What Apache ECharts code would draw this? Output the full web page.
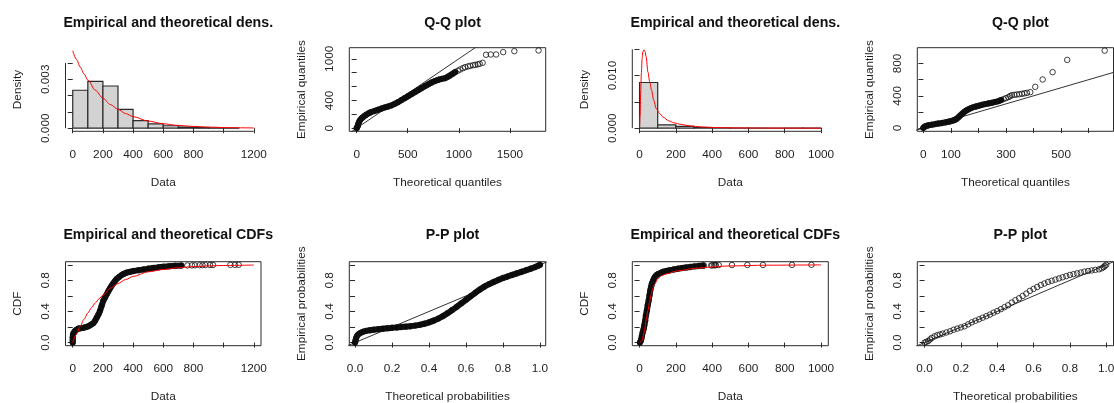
<!DOCTYPE html>
<html><head><meta charset="utf-8">
<script src="https://cdn.jsdelivr.net/npm/echarts@6/dist/echarts.min.js"></script>
<style>html,body{margin:0;padding:0;background:#fff}#c{width:1114px;height:403px}</style>
</head><body><div id="c"></div>
<script>
const FONT = '"Liberation Sans", Arial, sans-serif';

// ---------- Panel 1 : histogram + fitted density (set A) ----------
const hist1Breaks = [0,100,200,300,400,500,600,700,800,900,1000,1100];
const hist1Density = [0.00233,0.00287,0.00259,0.00115,0.00047,0.00027,0.00015,0.00007,0.00004,0.00002,0.00001];
const dens1X = [0,25,50,75,100,150,200,250,300,350,400,500,600,700,800,900,1000,1100,1200];
const dens1Y = [0.00475,0.00422,0.00375,0.00333,0.00296,0.00233,0.00184,0.00145,0.00116,0.0009,0.00071,0.00044,0.00027,0.00017,0.00011,0.00007,0.00004,0.000025,0.000015];
const x1Ticks = [0,200,400,600,800,1000,1200];
const x1Labels = [0,200,400,600,800,1200];
const y1Ticks = [0,0.001,0.002,0.003,0.004];
const y1Labels = [0,0.003];

// ---------- Panel 2 : Q-Q plot (set A) ----------
const qq1Band = [[0,0],[5,12],[10,30],[16,60],[25,95],[36,120],[47,140],[59,155],[75,175],[92,192],[115,212],[141,231],[175,248],[207,264],[240,281],[273,298],[306,312],[339,327],[372,350],[405,375],[438,404],[470,433],[503,461],[536,490],[569,519],[602,548],[635,577],[668,606],[701,633],[734,659],[767,680],[799,697],[832,710],[865,721],[890,740],[914,760],[940,785],[964,808]];
const qq1Sparse = [[990,828],[1013,846],[1040,865],[1062,880],[1090,890],[1112,899],[1140,907],[1161,913],[1185,920],[1204,928],[1233,942],[1266,1058],[1312,1062],[1365,1062],[1434,1096],[1543,1110],[1780,1120]];
const x2Ticks = [0,500,1000,1500];
const y2Ticks = [0,200,400,600,800,1000];
const y2Labels = [0,400,1000];

// ---------- Panel 3 : histogram + fitted density (set B) ----------
const hist2Breaks = [0,100,200,300,400,500,600,700,800,900,1000];
const hist2Density = [0.00868,0.00064,0.00032,0.0001,0.00004,0.00002,0.00002,0,0.00002,0.00002];
const dens2X = [0,3,6,10,14,18,24,30,36,46,56,66,78,92,110,130,160,190,230,280,340,420,520,700,1000];
const dens2Y = [0,0.0025,0.0065,0.0105,0.0132,0.0145,0.0149,0.0146,0.0136,0.0107,0.0088,0.0072,0.0053,0.0037,0.0028,0.0021,0.0014,0.001,0.0007,0.00042,0.00024,0.00011,0.00005,0.00001,0];
const x3Ticks = [0,200,400,600,800,1000];
const y3Ticks = [0,0.005,0.010,0.015];
const y3Labels = [0,0.010];

// ---------- Panel 4 : Q-Q plot (set B) ----------
const qq2Band = [[0,2],[3,12],[6,21],[12,28],[18,33],[30,41],[42,49],[55,56],[67,62],[80,70],[91,78],[100,86],[109,95],[115,104],[121,115],[127,133],[133,153],[139,172],[145,190],[151,207],[158,223],[167,238],[176,252],[188,265],[200,276],[212,287],[224,297],[236,305],[248,313],[260,323],[273,334],[282,347]];
const qq2Sparse = [[291,359],[300,371],[309,384],[315,396],[321,408],[330,412],[339,416],[348,420],[358,425],[367,431],[376,437],[388,445],[406,511],[433,602],[469,693],[522,845],[658,960]];
const x4Ticks = [0,100,200,300,400,500,600];
const x4Labels = [0,100,300,500];
const y4Ticks = [0,200,400,600,800];
const y4Labels = [0,400,800];

// ---------- Panel 5 : CDFs (set A) ----------
const cdf1Band = [[0,0],[0,0.03],[0,0.065],[2,0.1],[5,0.12],[15,0.15],[25,0.165],[38,0.18],[55,0.186],[71,0.19],[88,0.2],[104,0.21],[120,0.23],[137,0.25],[148,0.28],[159,0.32],[170,0.36],[181,0.41],[192,0.475],[203,0.54],[214,0.58],[225,0.62],[236,0.66],[248,0.70],[259,0.735],[270,0.765],[281,0.795],[292,0.82],[308,0.845],[325,0.87],[340,0.885],[358,0.90],[380,0.91],[402,0.92],[435,0.93],[469,0.94],[500,0.95],[535,0.96],[570,0.968],[601,0.975],[640,0.982],[680,0.987],[720,0.99]];
const cdf1Sparse = [[760,0.992],[790,0.993],[810,0.994],[840,0.995],[860,0.996],[880,0.997],[910,0.998],[930,0.998],[1045,0.999],[1075,0.9995],[1100,1.0]];
const cdf1FitX = [0,25,50,75,100,125,150,175,200,250,300,350,400,500,600,700,800,900,1000,1200];
const cdf1FitY = [0,0.11,0.21,0.30,0.38,0.45,0.51,0.565,0.61,0.70,0.76,0.81,0.85,0.91,0.94,0.963,0.977,0.986,0.991,0.997];
const yCdfTicks = [0,0.2,0.4,0.6,0.8,1.0];
const yCdfLabels = [0,0.4,0.8];

// ---------- Panel 6 : P-P plot (set A) ----------
const pp1Band = [[0,0],[0.003,0.03],[0.006,0.06],[0.012,0.09],[0.02,0.11],[0.03,0.125],[0.045,0.14],[0.06,0.15],[0.08,0.158],[0.1,0.165],[0.125,0.172],[0.15,0.178],[0.175,0.185],[0.2,0.19],[0.225,0.195],[0.25,0.2],[0.275,0.205],[0.3,0.21],[0.325,0.218],[0.35,0.228],[0.375,0.242],[0.4,0.26],[0.425,0.282],[0.45,0.308],[0.475,0.34],[0.5,0.378],[0.525,0.418],[0.55,0.46],[0.575,0.505],[0.6,0.55],[0.625,0.595],[0.65,0.64],[0.675,0.682],[0.7,0.72],[0.725,0.752],[0.75,0.78],[0.775,0.806],[0.8,0.83],[0.825,0.85],[0.85,0.87],[0.875,0.89],[0.9,0.91],[0.925,0.93],[0.95,0.95],[0.975,0.972],[0.99,0.988],[1.0,1.0]];
const xProbTicks = [0,0.2,0.4,0.6,0.8,1.0];

// ---------- Panel 7 : CDFs (set B) ----------
const cdf2Band = [[2,0],[6,0.02],[10,0.05],[13,0.086],[17,0.13],[22,0.17],[26,0.22],[31,0.28],[35,0.35],[40,0.41],[45,0.48],[50,0.54],[55,0.61],[59,0.67],[64,0.72],[68,0.76],[75,0.80],[83,0.84],[92,0.865],[101,0.88],[115,0.895],[129,0.91],[147,0.92],[165,0.93],[188,0.94],[211,0.95],[234,0.958],[257,0.966],[280,0.973],[303,0.98],[326,0.986],[349,0.99]];
const cdf2Sparse = [[355,0.991],[395,0.992],[400,0.993],[410,0.994],[417,0.995],[420,0.996],[436,0.997],[509,0.997],[594,0.998],[680,0.998],[840,0.999],[947,1.0]];
const cdf2FitX = [3,15,22,28,37,46,55,64,73,83,101,120,150,211,303,400,487,700,1000];
const cdf2FitY = [0,0.03,0.1,0.17,0.3,0.41,0.52,0.62,0.7,0.75,0.82,0.86,0.885,0.923,0.955,0.972,0.985,0.995,0.999];

// ---------- Panel 8 : P-P plot (set B) ----------
const pp2Points = [[0.0,0.0],[0.01,0.01],[0.02,0.02],[0.03,0.04],[0.04,0.06],[0.055,0.08],[0.07,0.095],[0.085,0.105],[0.1,0.115],[0.12,0.13],[0.14,0.145],[0.16,0.165],[0.18,0.18],[0.2,0.195],[0.22,0.21],[0.24,0.235],[0.26,0.26],[0.28,0.28],[0.3,0.3],[0.32,0.32],[0.34,0.34],[0.36,0.36],[0.38,0.385],[0.4,0.405],[0.42,0.43],[0.44,0.455],[0.46,0.48],[0.48,0.515],[0.5,0.545],[0.52,0.57],[0.54,0.6],[0.56,0.63],[0.58,0.665],[0.6,0.69],[0.62,0.715],[0.64,0.74],[0.66,0.76],[0.68,0.78],[0.7,0.795],[0.72,0.81],[0.74,0.825],[0.76,0.84],[0.78,0.855],[0.8,0.87],[0.82,0.88],[0.84,0.89],[0.86,0.9],[0.88,0.912],[0.9,0.92],[0.92,0.928],[0.94,0.935],[0.96,0.942],[0.975,0.955],[0.985,0.97],[0.992,0.985],[1.0,1.0]];

// ---------- layout ----------
const gridLeft = [65.5, 349.3, 632.3, 917.3];
const gridWidth = [195.5, 196.4, 196, 196.2];
const gridTop = [47.7, 261.7];
const gridHeight = [83.6, 84];
const titleTop = [11, 223];

const zip = (a, b) => a.map((v, i) => [v, b[i]]);
const histData = (br, d) => d.map((v, i) => [br[i], br[i + 1], v]);

const panels = [
  {c:0, r:0, title:'Empirical and theoretical dens.', box:false,
   x:{min:-48, max:1248, ticks:x1Ticks, labels:x1Labels, dec:0, name:'Data'},
   y:{min:-0.00019, max:0.00494, ticks:y1Ticks, labels:y1Labels, dec:3, name:'Density'},
   hist:histData(hist1Breaks, hist1Density), curve:zip(dens1X, dens1Y)},
  {c:1, r:0, title:'Q-Q plot', box:true,
   x:{min:-72, max:1850, ticks:x2Ticks, labels:x2Ticks, dec:0, name:'Theoretical quantiles'},
   y:{min:-45, max:1160, ticks:y2Ticks, labels:y2Labels, dec:0, name:'Empirical quantiles'},
   band:qq1Band, sparse:qq1Sparse, diag:true},
  {c:2, r:0, title:'Empirical and theoretical dens.', box:false,
   x:{min:-40, max:1040, ticks:x3Ticks, labels:x3Ticks, dec:0, name:'Data'},
   y:{min:-0.0006, max:0.0153, ticks:y3Ticks, labels:y3Labels, dec:3, name:'Density'},
   hist:histData(hist2Breaks, hist2Density), curve:zip(dens2X, dens2Y)},
  {c:3, r:0, title:'Q-Q plot', box:true,
   x:{min:-22, max:690, ticks:x4Ticks, labels:x4Labels, dec:0, name:'Theoretical quantiles'},
   y:{min:-40, max:996, ticks:y4Ticks, labels:y4Labels, dec:0, name:'Empirical quantiles'},
   band:qq2Band, sparse:qq2Sparse, diag:true},
  {c:0, r:1, title:'Empirical and theoretical CDFs', box:true,
   x:{min:-48, max:1248, ticks:x1Ticks, labels:x1Labels, dec:0, name:'Data'},
   y:{min:-0.04, max:1.04, ticks:yCdfTicks, labels:yCdfLabels, dec:1, name:'CDF'},
   band:cdf1Band, sparse:cdf1Sparse, curve:zip(cdf1FitX, cdf1FitY)},
  {c:1, r:1, title:'P-P plot', box:true,
   x:{min:-0.031, max:1.031, ticks:xProbTicks, labels:xProbTicks, dec:1, name:'Theoretical probabilities'},
   y:{min:-0.04, max:1.04, ticks:yCdfTicks, labels:yCdfLabels, dec:1, name:'Empirical probabilities'},
   band:pp1Band, sparse:[], diag:true},
  {c:2, r:1, title:'Empirical and theoretical CDFs', box:true,
   x:{min:-40, max:1040, ticks:x3Ticks, labels:x3Ticks, dec:0, name:'Data'},
   y:{min:-0.04, max:1.04, ticks:yCdfTicks, labels:yCdfLabels, dec:1, name:'CDF'},
   band:cdf2Band, sparse:cdf2Sparse, curve:zip(cdf2FitX, cdf2FitY)},
  {c:3, r:1, title:'P-P plot', box:true,
   x:{min:-0.04, max:1.04, ticks:xProbTicks, labels:xProbTicks, dec:1, name:'Theoretical probabilities'},
   y:{min:-0.04, max:1.04, ticks:yCdfTicks, labels:yCdfLabels, dec:1, name:'Empirical probabilities'},
   band:null, sparse:pp2Points, diag:true}
];

const INK = '#2b2b2b';
const textStyle = {fontSize:11.8, color:'#1e1e1e', fontFamily:FONT};
const option = {animation:false, backgroundColor:'#fff', title:[], grid:[], xAxis:[], yAxis:[], series:[]};

panels.forEach((p, i) => {
  option.grid.push({left:gridLeft[p.c], top:gridTop[p.r], width:gridWidth[p.c], height:gridHeight[p.r],
    show:p.box, borderColor:INK, borderWidth:1, backgroundColor:'transparent', containLabel:false, outerBoundsMode:'none'});
  option.title.push({text:p.title, left:gridLeft[p.c] + gridWidth[p.c] / 2, top:titleTop[p.r], textAlign:'center',
    textStyle:{fontSize:14.2, fontWeight:'bold', color:'#111', fontFamily:FONT}});
  const mk = (ax, isY) => ({
    type:'value', gridIndex:i, min:ax.min, max:ax.max,
    axisLine:{show:false}, splitLine:{show:false},
    axisTick:{show:true, inside:false, length:5, lineStyle:{color:INK, width:1}, customValues:ax.ticks},
    axisLabel:Object.assign({show:true, customValues:ax.labels, margin:isY ? 14 : 17, rotate:isY ? 90 : 0,
      formatter:v => Number(v).toFixed(ax.dec)}, textStyle),
    name:ax.name, nameLocation:'middle', nameGap:isY ? 42 : 45.5, nameMoveOverlap:false,
    nameTextStyle:textStyle
  });
  option.xAxis.push(mk(p.x, false));
  option.yAxis.push(mk(p.y, true));
  const base = {xAxisIndex:i, yAxisIndex:i, silent:true, animation:false};

  if (!p.box) {
    // detached R-style axis lines spanning first..last tick
    option.series.push(Object.assign({type:'line', symbol:'none', clip:false, z:5,
      lineStyle:{color:INK, width:1},
      data:[[p.x.ticks[0], p.y.min], [p.x.ticks[p.x.ticks.length - 1], p.y.min]]}, base));
    option.series.push(Object.assign({type:'line', symbol:'none', clip:false, z:5,
      lineStyle:{color:INK, width:1},
      data:[[p.x.min, p.y.ticks[0]], [p.x.min, p.y.ticks[p.y.ticks.length - 1]]]}, base));
  }
  if (p.hist) {
    option.series.push(Object.assign({type:'custom', z:2, data:p.hist, encode:{x:[0,1], y:2},
      renderItem:(params, api) => {
        const a = api.coord([api.value(0), api.value(2)]);
        const b = api.coord([api.value(1), 0]);
        return {type:'rect', shape:{x:a[0], y:a[1], width:b[0] - a[0], height:b[1] - a[1]},
          style:{fill:'#d3d3d3', stroke:'#2a2a2a', lineWidth:1.2}};
      }}, base));
  }
  if (p.diag) {
    const lo = Math.min(p.x.min, p.y.min) - 1, hi = Math.max(p.x.max, p.y.max) + 1;
    option.series.push(Object.assign({type:'line', symbol:'none', clip:true, z:3,
      lineStyle:{color:'#333', width:1}, data:[[lo, lo], [hi, hi]]}, base));
  }
  if (p.band) {
    option.series.push(Object.assign({type:'line', symbol:'none', clip:true, z:4, smooth:0.2,
      lineStyle:{color:'#0a0a0a', width:6, cap:'round', join:'round'}, data:p.band}, base));
  }
  const rings = (p.band || []).concat(p.sparse || []);
  if (rings.length) {
    option.series.push(Object.assign({type:'scatter', symbol:'circle', symbolSize:5.5, z:6, clip:true,
      itemStyle:{color:'rgba(0,0,0,0)', borderColor:'#111', borderWidth:1}, data:rings}, base));
  }
  if (p.curve) {
    option.series.push(Object.assign({type:'line', symbol:'none', clip:true, z:8, smooth:0.3, smoothMonotone:'x',
      lineStyle:{color:'#ff0000', width:1}, data:p.curve}, base));
  }
});

const chart = echarts.init(document.getElementById('c'), null, {renderer:'canvas'});
chart.setOption(option);
</script>
</body></html>
